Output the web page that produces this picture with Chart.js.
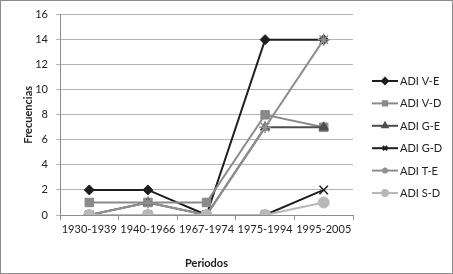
<!DOCTYPE html>
<html>
<head>
<meta charset="utf-8">
<script src="https://cdn.jsdelivr.net/npm/chart.js@4/dist/chart.umd.min.js"></script>
<style>
  html, body { margin: 0; padding: 0; background: #fff; }
  #wrap { width: 453px; height: 274px; position: relative; }
</style>
</head>
<body>
<div id="wrap"><canvas id="freqChart"></canvas></div>
<script>
const periodos = ['1930-1939', '1940-1966', '1967-1974', '1975-1994', '1995-2005'];
const seriesNames = ['ADI V-E', 'ADI V-D', 'ADI G-E', 'ADI G-D', 'ADI T-E', 'ADI S-D'];
const adiVE = [2, 2, 0, 14, 14];
const adiVD = [1, 1, 1, 8, 7];
const adiGE = [0, 1, 0, 7, 7];
const adiGD = [0, 0, 0, 0, 2];
const adiTE = [0, 1, 0, 7, 14];
const adiSD = [0, 0, 0, 0, 1];
const yTicks = [0, 2, 4, 6, 8, 10, 12, 14, 16];

const fontFamily = 'Lato, "Open Sans", sans-serif';
const textColor = '#222';

const styles = [
  { color: '#1e1e1e', point: 'rectRot', radius: 5 },
  { color: '#8a8a8a', point: 'rect', radius: 6 },
  { color: '#4f4f4f', point: 'triangle', radius: 5.5 },
  { color: '#1e1e1e', point: 'cross', radius: 6, rotation: 45 },
  { color: '#8f8f8f', point: 'star', radius: 6 },
  { color: '#b8b8b8', point: 'circle', radius: 5.5 }
];
const values = [adiVE, adiVD, adiGE, adiGD, adiTE, adiSD];

// legend with line + marker, like the spreadsheet one
const sideLegend = {
  id: 'sideLegend',
  beforeDraw(chart) {
    const ctx = chart.ctx;
    ctx.save();
    ctx.fillStyle = '#fff';
    ctx.fillRect(0, 0, chart.width, chart.height);
    ctx.strokeStyle = '#8c8c8c';
    ctx.lineWidth = 1;
    ctx.strokeRect(0.5, 0.5, chart.width - 1, chart.height - 1);
    ctx.restore();
  },
  afterDraw(chart) {
    const ctx = chart.ctx;
    ctx.save();
    chart.data.datasets.forEach((ds, i) => {
      const y = 81 + i * 22.4;
      ctx.strokeStyle = ds.borderColor;
      ctx.lineWidth = 2;
      ctx.beginPath();
      ctx.moveTo(372, y);
      ctx.lineTo(398, y);
      ctx.stroke();
      ctx.fillStyle = ds.pointBackgroundColor;
      ctx.strokeStyle = ds.pointBorderColor;
      Chart.helpers.drawPoint(ctx, {
        pointStyle: ds.pointStyle,
        radius: 3,
        rotation: ds.pointRotation || 0,
        borderWidth: 1
      }, 385, y);
      ctx.fillStyle = textColor;
      ctx.font = '11px ' + fontFamily;
      ctx.textBaseline = 'middle';
      ctx.fillText(ds.label, 400, y + 0.5);
    });
    ctx.restore();
  }
};

const datasets = seriesNames.map((name, i) => ({
  label: name,
  data: values[i],
  borderColor: styles[i].color,
  backgroundColor: styles[i].color,
  pointBackgroundColor: styles[i].color,
  pointBorderColor: styles[i].color,
  pointStyle: styles[i].point,
  pointRadius: styles[i].radius,
  pointRotation: styles[i].rotation || 0,
  pointBorderWidth: styles[i].point === 'cross' || styles[i].point === 'star' ? 1.5 : 1,
  borderWidth: 2,
  tension: 0,
  order: seriesNames.length - i
}));

new Chart(document.getElementById('freqChart'), {
  type: 'line',
  data: { labels: periodos, datasets: datasets },
  options: {
    responsive: true,
    maintainAspectRatio: false,
    animation: false,
    layout: { padding: { left: 18, right: 100, top: 12, bottom: 0 } },
    plugins: {
      legend: { display: false },
      tooltip: { enabled: false }
    },
    scales: {
      x: {
        offset: true,
        grid: { drawOnChartArea: false, drawTicks: true, tickLength: 5, offset: true, color: '#8c8c8c' },
        border: { color: '#8c8c8c', width: 1 },
        ticks: { color: textColor, font: { family: fontFamily, size: 11 }, maxRotation: 0, padding: 3 },
        title: {
          display: true,
          text: 'Periodos',
          color: textColor,
          font: { family: fontFamily, size: 11, weight: 'bold' },
          padding: { top: 4 }
        },
        afterFit(scale) { scale.height = 59; }
      },
      y: {
        min: 0,
        max: 16,
        afterBuildTicks(scale) { scale.ticks = yTicks.map(v => ({ value: v })); },
        grid: { color: '#b4b4b4', tickLength: 4, drawTicks: true },
        border: { color: '#8c8c8c', width: 1 },
        ticks: { color: textColor, font: { family: fontFamily, size: 11 }, padding: 8 },
        title: {
          display: true,
          text: 'Frecuencias',
          color: textColor,
          font: { family: fontFamily, size: 11, weight: 'bold' },
          padding: { bottom: 6 }
        },
        afterFit(scale) { scale.width = 42; }
      }
    }
  },
  plugins: [sideLegend]
});
</script>
</body>
</html>
